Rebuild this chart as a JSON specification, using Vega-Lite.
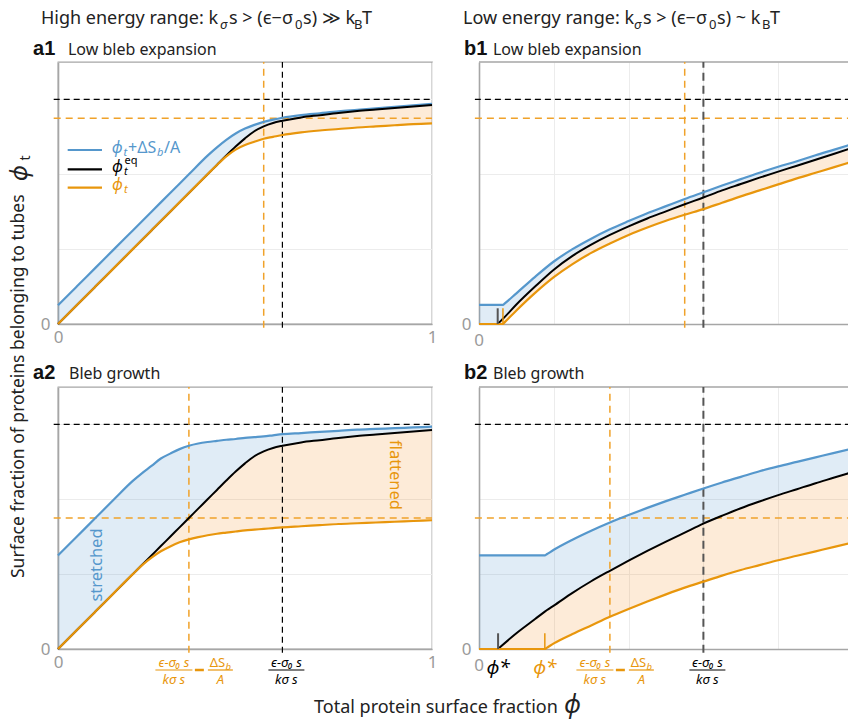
{
"$schema": "https://vega.github.io/schema/vega-lite/v6.json",
"padding": 0,
"background": "white",
"config": {
  "font": "Noto Sans",
  "view": {"stroke": "#a6a6a6", "strokeWidth": 1.3},
  "axis": {"grid": true, "gridColor": "#ececec", "gridWidth": 1, "ticks": false, "domainColor": "#a6a6a6", "domainWidth": 1.6, "labelColor": "#9a9a9a", "labelFontSize": 17, "labelFont": "Noto Sans", "labelFlush": false, "labelOverlap": false}
},
"columns": 2,
"spacing": {"row": 63, "column": 47},
"bounds": "flush",
"concat": [
{
  "width": 374, "height": 262,
  "data": {"values": [
    {"x":0,"blue":0.05,"black":0,"orange":0},
    {"x":0.05,"blue":0.1,"black":0.05,"orange":0.05},
    {"x":0.1,"blue":0.15,"black":0.1,"orange":0.1},
    {"x":0.15,"blue":0.2,"black":0.15,"orange":0.15},
    {"x":0.2,"blue":0.25,"black":0.2,"orange":0.2},
    {"x":0.25,"blue":0.3,"black":0.25,"orange":0.25},
    {"x":0.3,"blue":0.35,"black":0.3,"orange":0.3},
    {"x":0.35,"blue":0.4,"black":0.35,"orange":0.35},
    {"x":0.4,"blue":0.45,"black":0.4,"orange":0.4},
    {"x":0.425,"blue":0.472,"black":0.425,"orange":0.425},
    {"x":0.45,"blue":0.492,"black":0.45,"orange":0.448},
    {"x":0.475,"blue":0.509,"black":0.474,"orange":0.466},
    {"x":0.5,"blue":0.522,"black":0.496,"orange":0.478},
    {"x":0.525,"blue":0.532,"black":0.515,"orange":0.487},
    {"x":0.55,"blue":0.54,"black":0.528,"orange":0.495},
    {"x":0.575,"blue":0.546,"black":0.537,"orange":0.5},
    {"x":0.6,"blue":0.551,"black":0.543,"orange":0.505},
    {"x":0.65,"blue":0.558,"black":0.552,"orange":0.512},
    {"x":0.7,"blue":0.563,"black":0.558,"orange":0.517},
    {"x":0.75,"blue":0.568,"black":0.564,"orange":0.521},
    {"x":0.8,"blue":0.572,"black":0.569,"orange":0.525},
    {"x":0.85,"blue":0.576,"black":0.573,"orange":0.528},
    {"x":0.9,"blue":0.58,"black":0.577,"orange":0.531},
    {"x":0.95,"blue":0.584,"black":0.581,"orange":0.534},
    {"x":1,"blue":0.588,"black":0.585,"orange":0.536}
  ]},
  "encoding": {"x": {"field": "x", "type": "quantitative", "title": null, "scale": {"domain": [0, 1], "nice": false}, "axis": {"values": [0,0.2,0.4,0.6,0.8,1], "format": "d", "labelExpr": "datum.value==0?'0':datum.value==1?'1':''", "labelPadding": 5}}},
  "layer": [
    {"mark": {"type": "area", "color": "#5597cc", "opacity": 0.18, "interpolate": "monotone"}, "encoding": {"y": {"field": "blue", "type": "quantitative", "title": null, "scale": {"domain": [0, 0.7], "nice": false}, "axis": {"values": [0,0.2,0.4,0.6], "labelExpr": "datum.value==0?'0':''", "labelPadding": 8}}, "y2": {"field": "black"}}},
    {"mark": {"type": "area", "color": "#f39c3c", "opacity": 0.2, "interpolate": "monotone"}, "encoding": {"y": {"field": "black", "type": "quantitative", "title": null}, "y2": {"field": "orange"}}},
    {"data": {"values": [{"xa": -0.0115, "xb": 1, "y": 0.6}]}, "mark": {"type": "rule", "color": "#000000", "strokeWidth": 1.2, "strokeDash": [6, 4]}, "encoding": {"x": {"field": "xa", "type": "quantitative", "title": null}, "x2": {"field": "xb"}, "y": {"field": "y", "type": "quantitative", "title": null}}},
    {"data": {"values": [{"xa": -0.0115, "xb": 1, "y": 0.55}]}, "mark": {"type": "rule", "color": "#f0a22a", "strokeWidth": 1.5, "strokeDash": [7, 5]}, "encoding": {"x": {"field": "xa", "type": "quantitative", "title": null}, "x2": {"field": "xb"}, "y": {"field": "y", "type": "quantitative", "title": null}}},
    {"data": {"values": [{"x": 0.6, "ya": -0.01, "yb": 0.7}]}, "mark": {"type": "rule", "color": "#000000", "strokeWidth": 1.2, "strokeDash": [6, 4]}, "encoding": {"y": {"field": "ya", "type": "quantitative", "title": null}, "y2": {"field": "yb"}}},
    {"data": {"values": [{"x": 0.55, "ya": -0.01, "yb": 0.7}]}, "mark": {"type": "rule", "color": "#f0a22a", "strokeWidth": 1.5, "strokeDash": [7, 5]}, "encoding": {"y": {"field": "ya", "type": "quantitative", "title": null}, "y2": {"field": "yb"}}},
    {"mark": {"type": "line", "color": "#5597cc", "strokeWidth": 2.2, "interpolate": "monotone"}, "encoding": {"y": {"field": "blue", "type": "quantitative", "title": null}}},
    {"mark": {"type": "line", "color": "#000000", "strokeWidth": 2, "interpolate": "monotone"}, "encoding": {"y": {"field": "black", "type": "quantitative", "title": null}}},
    {"mark": {"type": "line", "color": "#e8960c", "strokeWidth": 2.2, "interpolate": "monotone"}, "encoding": {"y": {"field": "orange", "type": "quantitative", "title": null}}},
    {"data": {"values": [{"s":"blue","xa":0.0259,"xb":0.1176,"y":0.4649},{"s":"black","xa":0.0259,"xb":0.1176,"y":0.4133},{"s":"orange","xa":0.0259,"xb":0.1176,"y":0.3642}]}, "mark": {"type": "rule", "strokeWidth": 2.2}, "encoding": {"x": {"field": "xa", "type": "quantitative", "title": null}, "x2": {"field": "xb"}, "y": {"field": "y", "type": "quantitative", "title": null}, "color": {"field": "s", "type": "nominal", "scale": {"domain": ["blue","black","orange"], "range": ["#5597cc","#000000","#e8960c"]}, "legend": null}}},
    {"data": {"values": [{"s":"blue","x":0.1436,"y":0.4569,"t":"ϕ"},{"s":"black","x":0.1444,"y":0.4061,"t":"ϕ"},{"s":"orange","x":0.1444,"y":0.3567,"t":"ϕ"}]}, "mark": {"type": "text", "align": "left", "baseline": "alphabetic", "fontSize": 16, "fontStyle": "italic"}, "encoding": {"y": {"field": "y", "type": "quantitative", "title": null}, "text": {"field": "t"}, "color": {"field": "s", "type": "nominal", "legend": null}}},
    {"data": {"values": [{"s":"blue","x":0.1751,"y":0.4489,"t":"t"},{"s":"blue","x":0.2647,"y":0.4489,"t":"b"},{"s":"black","x":0.1765,"y":0.3981,"t":"t"},{"s":"orange","x":0.1765,"y":0.3487,"t":"t"}]}, "mark": {"type": "text", "align": "left", "baseline": "alphabetic", "fontSize": 11, "fontStyle": "italic"}, "encoding": {"y": {"field": "y", "type": "quantitative", "title": null}, "text": {"field": "t"}, "color": {"field": "s", "type": "nominal", "legend": null}}},
    {"data": {"values": [{"s":"blue","x":0.1872,"y":0.4569,"t":"+ΔS"},{"s":"blue","x":0.2834,"y":0.4569,"t":"/A"}]}, "mark": {"type": "text", "align": "left", "baseline": "alphabetic", "fontSize": 16}, "encoding": {"y": {"field": "y", "type": "quantitative", "title": null}, "text": {"field": "t"}, "color": {"field": "s", "type": "nominal", "legend": null}}},
    {"data": {"values": [{"s":"black","x":0.1778,"y":0.4275,"t":"eq"}]}, "mark": {"type": "text", "align": "left", "baseline": "alphabetic", "fontSize": 11}, "encoding": {"y": {"field": "y", "type": "quantitative", "title": null}, "text": {"field": "t"}, "color": {"field": "s", "type": "nominal", "legend": null}}},
    {"data": {"values": [{"x":-0.0455,"y":0.8002,"t":"High energy range: k"},{"x":0.4572,"y":0.8002,"t":"s > (ϵ−σ"},{"x":0.6551,"y":0.8002,"t":"s) ≫ k"},{"x":0.8128,"y":0.8002,"t":"T"}]}, "mark": {"type": "text", "align": "left", "baseline": "alphabetic", "fontSize": 18, "color": "#222222"}, "encoding": {"y": {"field": "y", "type": "quantitative", "title": null}, "text": {"field": "t"}}},
    {"data": {"values": [{"x":0.4332,"y":0.7895,"t":"σ"}]}, "mark": {"type": "text", "align": "left", "baseline": "alphabetic", "fontSize": 13, "fontStyle": "italic", "color": "#222222"}, "encoding": {"y": {"field": "y", "type": "quantitative", "title": null}, "text": {"field": "t"}}},
    {"data": {"values": [{"x":0.6337,"y":0.7895,"t":"0"},{"x":0.7914,"y":0.7895,"t":"B"}]}, "mark": {"type": "text", "align": "left", "baseline": "alphabetic", "fontSize": 13, "color": "#222222"}, "encoding": {"y": {"field": "y", "type": "quantitative", "title": null}, "text": {"field": "t"}}},
    {"data": {"values": [{"x":-0.0668,"y":0.7187,"t":"a1"}]}, "mark": {"type": "text", "align": "left", "baseline": "alphabetic", "fontSize": 20, "fontWeight": "bold", "font": "Liberation Sans", "color": "#111111"}, "encoding": {"y": {"field": "y", "type": "quantitative", "title": null}, "text": {"field": "t"}}},
    {"data": {"values": [{"x":0.0267,"y":0.7187,"t":"Low bleb expansion"}]}, "mark": {"type": "text", "align": "left", "baseline": "alphabetic", "fontSize": 16, "color": "#222222"}, "encoding": {"y": {"field": "y", "type": "quantitative", "title": null}, "text": {"field": "t"}}},
    {"data": {"values": [{"x":-0.1056,"y":-0.6786,"t":"Surface fraction of proteins belonging to tubes"}]}, "mark": {"type": "text", "align": "left", "baseline": "middle", "angle": 270, "fontSize": 17.5, "color": "#222222"}, "encoding": {"y": {"field": "y", "type": "quantitative", "title": null}, "text": {"field": "t"}}},
    {"data": {"values": [{"x":-0.1016,"y":0.4034,"t":"ϕ"}]}, "mark": {"type": "text", "align": "center", "baseline": "middle", "angle": 270, "fontSize": 24, "fontStyle": "italic", "color": "#222222"}, "encoding": {"y": {"field": "y", "type": "quantitative", "title": null}, "text": {"field": "t"}}},
    {"data": {"values": [{"x":-0.0856,"y":0.4435,"t":"t"}]}, "mark": {"type": "text", "align": "center", "baseline": "middle", "angle": 270, "fontSize": 14, "color": "#222222"}, "encoding": {"y": {"field": "y", "type": "quantitative", "title": null}, "text": {"field": "t"}}},
    {"data": {"values": [{"x":-0.1524,"y":0.863,"t":" "}]}, "mark": {"type": "text", "align": "left", "baseline": "top", "fontSize": 1, "opacity": 0}, "encoding": {"y": {"field": "y", "type": "quantitative", "title": null}, "text": {"field": "t"}}}
  ]
},
{
  "width": 370, "height": 262,
  "view": {"stroke": null},
  "data": {"values": [
    {"x":0,"blue":0.051,"black":0,"orange":0},
    {"x":0.05,"blue":0.051,"black":0,"orange":0},
    {"x":0.055,"blue":0.051,"black":0.005,"orange":0},
    {"x":0.064,"blue":0.051,"black":0.014,"orange":0},
    {"x":0.069,"blue":0.055,"black":0.019,"orange":0.005},
    {"x":0.1,"blue":0.082,"black":0.052,"orange":0.036},
    {"x":0.15,"blue":0.126,"black":0.1,"orange":0.083},
    {"x":0.2,"blue":0.167,"black":0.145,"orange":0.125},
    {"x":0.25,"blue":0.2,"black":0.182,"orange":0.16},
    {"x":0.3,"blue":0.228,"black":0.212,"orange":0.19},
    {"x":0.35,"blue":0.253,"black":0.238,"orange":0.215},
    {"x":0.4,"blue":0.275,"black":0.261,"orange":0.238},
    {"x":0.45,"blue":0.296,"black":0.282,"orange":0.258},
    {"x":0.5,"blue":0.315,"black":0.301,"orange":0.276},
    {"x":0.55,"blue":0.334,"black":0.32,"orange":0.292},
    {"x":0.6,"blue":0.352,"black":0.338,"orange":0.307},
    {"x":0.65,"blue":0.37,"black":0.357,"orange":0.324},
    {"x":0.7,"blue":0.387,"black":0.374,"orange":0.341},
    {"x":0.75,"blue":0.404,"black":0.391,"orange":0.357},
    {"x":0.8,"blue":0.42,"black":0.407,"orange":0.373},
    {"x":0.85,"blue":0.435,"black":0.423,"orange":0.389},
    {"x":0.9,"blue":0.451,"black":0.439,"orange":0.404},
    {"x":0.95,"blue":0.466,"black":0.455,"orange":0.419},
    {"x":0.9893,"blue":0.478,"black":0.468,"orange":0.431}
  ]},
  "encoding": {"x": {"field": "x", "type": "quantitative", "title": null, "scale": {"domain": [0, 0.9893], "nice": false}, "axis": {"values": [0,0.2,0.4,0.6,0.8], "labels": false}}},
  "layer": [
    {"mark": {"type": "area", "color": "#5597cc", "opacity": 0.18, "interpolate": "monotone"}, "encoding": {"y": {"field": "blue", "type": "quantitative", "title": null, "scale": {"domain": [0, 0.7], "nice": false}, "axis": {"values": [0,0.2,0.4,0.6], "labelExpr": "datum.value==0?'0':''", "labelPadding": 8}}, "y2": {"field": "black"}}},
    {"mark": {"type": "area", "color": "#f39c3c", "opacity": 0.2, "interpolate": "monotone"}, "encoding": {"y": {"field": "black", "type": "quantitative", "title": null}, "y2": {"field": "orange"}}},
    {"data": {"values": [{"xa": 0, "xb": 0.9893, "y": 0.7}]}, "mark": {"type": "rule", "color": "#a6a6a6", "strokeWidth": 1.3}, "encoding": {"x": {"field": "xa", "type": "quantitative", "title": null}, "x2": {"field": "xb"}, "y": {"field": "y", "type": "quantitative", "title": null}}},
    {"data": {"values": [{"xa": -0.011, "xb": 0.9893, "y": 0.6}]}, "mark": {"type": "rule", "color": "#000000", "strokeWidth": 1.2, "strokeDash": [6, 4]}, "encoding": {"x": {"field": "xa", "type": "quantitative", "title": null}, "x2": {"field": "xb"}, "y": {"field": "y", "type": "quantitative", "title": null}}},
    {"data": {"values": [{"xa": -0.011, "xb": 0.9893, "y": 0.55}]}, "mark": {"type": "rule", "color": "#f0a22a", "strokeWidth": 1.5, "strokeDash": [7, 5]}, "encoding": {"x": {"field": "xa", "type": "quantitative", "title": null}, "x2": {"field": "xb"}, "y": {"field": "y", "type": "quantitative", "title": null}}},
    {"data": {"values": [{"x": 0.6, "ya": -0.01, "yb": 0.7}]}, "mark": {"type": "rule", "color": "#555555", "strokeWidth": 2, "strokeDash": [8, 5]}, "encoding": {"y": {"field": "ya", "type": "quantitative", "title": null}, "y2": {"field": "yb"}}},
    {"data": {"values": [{"x": 0.55, "ya": -0.01, "yb": 0.7}]}, "mark": {"type": "rule", "color": "#f0a22a", "strokeWidth": 1.5, "strokeDash": [7, 5]}, "encoding": {"y": {"field": "ya", "type": "quantitative", "title": null}, "y2": {"field": "yb"}}},
    {"mark": {"type": "line", "color": "#5597cc", "strokeWidth": 2.2, "interpolate": "monotone"}, "encoding": {"y": {"field": "blue", "type": "quantitative", "title": null}}},
    {"mark": {"type": "line", "color": "#000000", "strokeWidth": 2, "interpolate": "monotone"}, "encoding": {"y": {"field": "black", "type": "quantitative", "title": null}}},
    {"mark": {"type": "line", "color": "#e8960c", "strokeWidth": 2.2, "interpolate": "monotone"}, "encoding": {"y": {"field": "orange", "type": "quantitative", "title": null}}},
    {"data": {"values": [{"x": 0.05, "ya": 0, "yb": 0.042}]}, "mark": {"type": "rule", "color": "#555555", "strokeWidth": 2}, "encoding": {"y": {"field": "ya", "type": "quantitative", "title": null}, "y2": {"field": "yb"}}},
    {"data": {"values": [{"x": 0.064, "ya": 0, "yb": 0.042}]}, "mark": {"type": "rule", "color": "#e8960c", "strokeWidth": 1.5}, "encoding": {"y": {"field": "ya", "type": "quantitative", "title": null}, "y2": {"field": "yb"}}},
    {"data": {"values": [{"x":0,"y":-0.045,"t":"0"}]}, "mark": {"type": "text", "align": "center", "baseline": "middle", "fontSize": 17, "color": "#9a9a9a"}, "encoding": {"y": {"field": "y", "type": "quantitative", "title": null}, "text": {"field": "t"}}},
    {"data": {"values": [{"x":-0.0428,"y":0.8002,"t":"Low energy range: k"},{"x":0.4385,"y":0.8002,"t":"s > (ϵ−σ"},{"x":0.6364,"y":0.8002,"t":"s) ~ k"},{"x":0.7781,"y":0.8002,"t":"T"}]}, "mark": {"type": "text", "align": "left", "baseline": "alphabetic", "fontSize": 18, "color": "#222222"}, "encoding": {"y": {"field": "y", "type": "quantitative", "title": null}, "text": {"field": "t"}}},
    {"data": {"values": [{"x":0.4144,"y":0.7895,"t":"σ"}]}, "mark": {"type": "text", "align": "left", "baseline": "alphabetic", "fontSize": 13, "fontStyle": "italic", "color": "#222222"}, "encoding": {"y": {"field": "y", "type": "quantitative", "title": null}, "text": {"field": "t"}}},
    {"data": {"values": [{"x":0.615,"y":0.7895,"t":"0"},{"x":0.7567,"y":0.7895,"t":"B"}]}, "mark": {"type": "text", "align": "left", "baseline": "alphabetic", "fontSize": 13, "color": "#222222"}, "encoding": {"y": {"field": "y", "type": "quantitative", "title": null}, "text": {"field": "t"}}},
    {"data": {"values": [{"x":-0.0401,"y":0.7187,"t":"b1"}]}, "mark": {"type": "text", "align": "left", "baseline": "alphabetic", "fontSize": 20, "fontWeight": "bold", "font": "Liberation Sans", "color": "#111111"}, "encoding": {"y": {"field": "y", "type": "quantitative", "title": null}, "text": {"field": "t"}}},
    {"data": {"values": [{"x":0.0374,"y":0.7187,"t":"Low bleb expansion"}]}, "mark": {"type": "text", "align": "left", "baseline": "alphabetic", "fontSize": 16, "color": "#222222"}, "encoding": {"y": {"field": "y", "type": "quantitative", "title": null}, "text": {"field": "t"}}}
  ]
},
{
  "width": 374, "height": 262,
  "data": {"values": [
    {"x":0,"blue":0.25,"black":0,"orange":0},
    {"x":0.05,"blue":0.3,"black":0.05,"orange":0.05},
    {"x":0.1,"blue":0.35,"black":0.1,"orange":0.1},
    {"x":0.15,"blue":0.4,"black":0.15,"orange":0.15},
    {"x":0.2,"blue":0.449,"black":0.2,"orange":0.2},
    {"x":0.225,"blue":0.47,"black":0.225,"orange":0.224},
    {"x":0.25,"blue":0.489,"black":0.25,"orange":0.244},
    {"x":0.275,"blue":0.509,"black":0.275,"orange":0.261},
    {"x":0.3,"blue":0.522,"black":0.3,"orange":0.274},
    {"x":0.325,"blue":0.534,"black":0.325,"orange":0.285},
    {"x":0.35,"blue":0.543,"black":0.35,"orange":0.293},
    {"x":0.375,"blue":0.549,"black":0.375,"orange":0.299},
    {"x":0.4,"blue":0.553,"black":0.4,"orange":0.304},
    {"x":0.425,"blue":0.556,"black":0.425,"orange":0.308},
    {"x":0.45,"blue":0.559,"black":0.45,"orange":0.311},
    {"x":0.475,"blue":0.561,"black":0.474,"orange":0.314},
    {"x":0.5,"blue":0.564,"black":0.496,"orange":0.317},
    {"x":0.525,"blue":0.566,"black":0.515,"orange":0.319},
    {"x":0.55,"blue":0.568,"black":0.528,"orange":0.321},
    {"x":0.575,"blue":0.571,"black":0.537,"orange":0.323},
    {"x":0.6,"blue":0.574,"black":0.543,"orange":0.325},
    {"x":0.65,"blue":0.577,"black":0.552,"orange":0.328},
    {"x":0.7,"blue":0.58,"black":0.558,"orange":0.331},
    {"x":0.75,"blue":0.583,"black":0.564,"orange":0.334},
    {"x":0.8,"blue":0.586,"black":0.569,"orange":0.336},
    {"x":0.85,"blue":0.588,"black":0.573,"orange":0.338},
    {"x":0.9,"blue":0.59,"black":0.577,"orange":0.34},
    {"x":0.95,"blue":0.592,"black":0.581,"orange":0.342},
    {"x":1,"blue":0.594,"black":0.585,"orange":0.344}
  ]},
  "encoding": {"x": {"field": "x", "type": "quantitative", "title": null, "scale": {"domain": [0, 1], "nice": false}, "axis": {"values": [0,0.2,0.4,0.6,0.8,1], "format": "d", "labelExpr": "datum.value==0?'0':datum.value==1?'1':''", "labelPadding": 5}}},
  "layer": [
    {"mark": {"type": "area", "color": "#5597cc", "opacity": 0.18, "interpolate": "monotone"}, "encoding": {"y": {"field": "blue", "type": "quantitative", "title": null, "scale": {"domain": [0, 0.7], "nice": false}, "axis": {"values": [0,0.2,0.4,0.6], "labelExpr": "datum.value==0?'0':''", "labelPadding": 8}}, "y2": {"field": "black"}}},
    {"mark": {"type": "area", "color": "#f39c3c", "opacity": 0.2, "interpolate": "monotone"}, "encoding": {"y": {"field": "black", "type": "quantitative", "title": null}, "y2": {"field": "orange"}}},
    {"data": {"values": [{"xa": -0.0115, "xb": 1, "y": 0.6}]}, "mark": {"type": "rule", "color": "#000000", "strokeWidth": 1.2, "strokeDash": [6, 4]}, "encoding": {"x": {"field": "xa", "type": "quantitative", "title": null}, "x2": {"field": "xb"}, "y": {"field": "y", "type": "quantitative", "title": null}}},
    {"data": {"values": [{"xa": -0.0115, "xb": 1, "y": 0.35}]}, "mark": {"type": "rule", "color": "#f0a22a", "strokeWidth": 1.5, "strokeDash": [7, 5]}, "encoding": {"x": {"field": "xa", "type": "quantitative", "title": null}, "x2": {"field": "xb"}, "y": {"field": "y", "type": "quantitative", "title": null}}},
    {"data": {"values": [{"x": 0.6, "ya": -0.01, "yb": 0.7}]}, "mark": {"type": "rule", "color": "#000000", "strokeWidth": 1.2, "strokeDash": [6, 4]}, "encoding": {"y": {"field": "ya", "type": "quantitative", "title": null}, "y2": {"field": "yb"}}},
    {"data": {"values": [{"x": 0.35, "ya": -0.01, "yb": 0.7}]}, "mark": {"type": "rule", "color": "#f0a22a", "strokeWidth": 1.5, "strokeDash": [7, 5]}, "encoding": {"y": {"field": "ya", "type": "quantitative", "title": null}, "y2": {"field": "yb"}}},
    {"mark": {"type": "line", "color": "#5597cc", "strokeWidth": 2.2, "interpolate": "monotone"}, "encoding": {"y": {"field": "blue", "type": "quantitative", "title": null}}},
    {"mark": {"type": "line", "color": "#000000", "strokeWidth": 2, "interpolate": "monotone"}, "encoding": {"y": {"field": "black", "type": "quantitative", "title": null}}},
    {"mark": {"type": "line", "color": "#e8960c", "strokeWidth": 2.2, "interpolate": "monotone"}, "encoding": {"y": {"field": "orange", "type": "quantitative", "title": null}}},
    {"data": {"values": [{"x":0.1043,"y":0.2244,"t":"stretched"}]}, "mark": {"type": "text", "align": "center", "baseline": "middle", "angle": 270, "fontSize": 16.5, "color": "#5597cc"}, "encoding": {"y": {"field": "y", "type": "quantitative", "title": null}, "text": {"field": "t"}}},
    {"data": {"values": [{"x":0.9011,"y":0.4649,"t":"flattened"}]}, "mark": {"type": "text", "align": "center", "baseline": "middle", "angle": 90, "fontSize": 16.5, "color": "#e8960c"}, "encoding": {"y": {"field": "y", "type": "quantitative", "title": null}, "text": {"field": "t"}}},
    {"data": {"values": [{"s":"orange","xa":0.2604,"xb":0.3594,"y":-0.0561},{"s":"orange","xa":0.4008,"xb":0.4676,"y":-0.0561},{"s":"black","xa":0.5626,"xb":0.6588,"y":-0.0561}]}, "mark": {"type": "rule", "strokeWidth": 1.2}, "encoding": {"x": {"field": "xa", "type": "quantitative", "title": null}, "x2": {"field": "xb"}, "y": {"field": "y", "type": "quantitative", "title": null}, "color": {"field": "s", "type": "nominal", "scale": {"domain": ["blue","black","orange"], "range": ["#5597cc","#000000","#e8960c"]}, "legend": null}}},
    {"data": {"values": [{"xa":0.366,"xb":0.39,"y":-0.0561}]}, "mark": {"type": "rule", "strokeWidth": 2.5, "color": "#e8960c"}, "encoding": {"x": {"field": "xa", "type": "quantitative", "title": null}, "x2": {"field": "xb"}, "y": {"field": "y", "type": "quantitative", "title": null}}},
    {"data": {"values": [{"s":"orange","x":0.3099,"y":-0.0494,"t":"ϵ−σ₀ s"},{"s":"orange","x":0.3099,"y":-0.0935,"t":"kσ s"},{"s":"orange","x":0.4342,"y":-0.0935,"t":"A"},{"s":"black","x":0.6107,"y":-0.0494,"t":"ϵ−σ₀ s"},{"s":"black","x":0.6107,"y":-0.0935,"t":"kσ s"}]}, "mark": {"type": "text", "align": "center", "baseline": "alphabetic", "fontSize": 13, "fontStyle": "italic"}, "encoding": {"y": {"field": "y", "type": "quantitative", "title": null}, "text": {"field": "t"}, "color": {"field": "s", "type": "nominal", "legend": null}}},
    {"data": {"values": [{"x":0.4469,"y":-0.0494,"t":"ΔS"}]}, "mark": {"type": "text", "align": "right", "baseline": "alphabetic", "fontSize": 13, "color": "#e8960c"}, "encoding": {"y": {"field": "y", "type": "quantitative", "title": null}, "text": {"field": "t"}}},
    {"data": {"values": [{"x":0.4476,"y":-0.0574,"t":"b"}]}, "mark": {"type": "text", "align": "left", "baseline": "alphabetic", "fontSize": 9.5, "fontStyle": "italic", "color": "#e8960c"}, "encoding": {"y": {"field": "y", "type": "quantitative", "title": null}, "text": {"field": "t"}}},
    {"data": {"values": [{"x":-0.0668,"y":0.7214,"t":"a2"}]}, "mark": {"type": "text", "align": "left", "baseline": "alphabetic", "fontSize": 20, "fontWeight": "bold", "font": "Liberation Sans", "color": "#111111"}, "encoding": {"y": {"field": "y", "type": "quantitative", "title": null}, "text": {"field": "t"}}},
    {"data": {"values": [{"x":0.0294,"y":0.7214,"t":"Bleb growth"}]}, "mark": {"type": "text", "align": "left", "baseline": "alphabetic", "fontSize": 16, "color": "#222222"}, "encoding": {"y": {"field": "y", "type": "quantitative", "title": null}, "text": {"field": "t"}}},
    {"data": {"values": [{"x":0.6845,"y":-0.1702,"t":"Total protein surface fraction"}]}, "mark": {"type": "text", "align": "left", "baseline": "alphabetic", "fontSize": 18, "color": "#222222"}, "encoding": {"y": {"field": "y", "type": "quantitative", "title": null}, "text": {"field": "t"}}},
    {"data": {"values": [{"x":1.353,"y":-0.171,"t":"ϕ"}]}, "mark": {"type": "text", "align": "left", "baseline": "alphabetic", "fontSize": 25, "fontStyle": "italic", "color": "#222222"}, "encoding": {"y": {"field": "y", "type": "quantitative", "title": null}, "text": {"field": "t"}}}
  ]
},
{
  "width": 370, "height": 262,
  "view": {"stroke": null},
  "data": {"values": [
    {"x":0,"blue":0.25,"black":0,"orange":0},
    {"x":0.051,"blue":0.25,"black":0,"orange":0},
    {"x":0.056,"blue":0.25,"black":0.0045,"orange":0},
    {"x":0.1,"blue":0.25,"black":0.042,"orange":0},
    {"x":0.15,"blue":0.25,"black":0.08,"orange":0},
    {"x":0.176,"blue":0.25,"black":0.1,"orange":0},
    {"x":0.181,"blue":0.253,"black":0.1035,"orange":0.003},
    {"x":0.2,"blue":0.265,"black":0.116,"orange":0.015},
    {"x":0.25,"blue":0.292,"black":0.15,"orange":0.04},
    {"x":0.3,"blue":0.316,"black":0.181,"orange":0.063},
    {"x":0.35,"blue":0.338,"black":0.209,"orange":0.086},
    {"x":0.4,"blue":0.358,"black":0.236,"orange":0.107},
    {"x":0.45,"blue":0.377,"black":0.262,"orange":0.127},
    {"x":0.5,"blue":0.395,"black":0.287,"orange":0.146},
    {"x":0.55,"blue":0.412,"black":0.311,"orange":0.164},
    {"x":0.6,"blue":0.429,"black":0.335,"orange":0.18},
    {"x":0.65,"blue":0.445,"black":0.356,"orange":0.196},
    {"x":0.7,"blue":0.46,"black":0.376,"orange":0.211},
    {"x":0.75,"blue":0.475,"black":0.394,"orange":0.224},
    {"x":0.8,"blue":0.488,"black":0.411,"orange":0.237},
    {"x":0.85,"blue":0.5,"black":0.427,"orange":0.249},
    {"x":0.9,"blue":0.512,"black":0.443,"orange":0.261},
    {"x":0.95,"blue":0.524,"black":0.458,"orange":0.273},
    {"x":0.9893,"blue":0.533,"black":0.47,"orange":0.282}
  ]},
  "encoding": {"x": {"field": "x", "type": "quantitative", "title": null, "scale": {"domain": [0, 0.9893], "nice": false}, "axis": {"values": [0,0.2,0.4,0.6,0.8], "labels": false}}},
  "layer": [
    {"mark": {"type": "area", "color": "#5597cc", "opacity": 0.18, "interpolate": "monotone"}, "encoding": {"y": {"field": "blue", "type": "quantitative", "title": null, "scale": {"domain": [0, 0.7], "nice": false}, "axis": {"values": [0,0.2,0.4,0.6], "labelExpr": "datum.value==0?'0':''", "labelPadding": 8}}, "y2": {"field": "black"}}},
    {"mark": {"type": "area", "color": "#f39c3c", "opacity": 0.2, "interpolate": "monotone"}, "encoding": {"y": {"field": "black", "type": "quantitative", "title": null}, "y2": {"field": "orange"}}},
    {"data": {"values": [{"xa": 0, "xb": 0.9893, "y": 0.7}]}, "mark": {"type": "rule", "color": "#a6a6a6", "strokeWidth": 1.3}, "encoding": {"x": {"field": "xa", "type": "quantitative", "title": null}, "x2": {"field": "xb"}, "y": {"field": "y", "type": "quantitative", "title": null}}},
    {"data": {"values": [{"xa": -0.011, "xb": 0.9893, "y": 0.6}]}, "mark": {"type": "rule", "color": "#000000", "strokeWidth": 1.2, "strokeDash": [6, 4]}, "encoding": {"x": {"field": "xa", "type": "quantitative", "title": null}, "x2": {"field": "xb"}, "y": {"field": "y", "type": "quantitative", "title": null}}},
    {"data": {"values": [{"xa": -0.011, "xb": 0.9893, "y": 0.35}]}, "mark": {"type": "rule", "color": "#f0a22a", "strokeWidth": 1.5, "strokeDash": [7, 5]}, "encoding": {"x": {"field": "xa", "type": "quantitative", "title": null}, "x2": {"field": "xb"}, "y": {"field": "y", "type": "quantitative", "title": null}}},
    {"data": {"values": [{"x": 0.6, "ya": -0.01, "yb": 0.7}]}, "mark": {"type": "rule", "color": "#555555", "strokeWidth": 2, "strokeDash": [8, 5]}, "encoding": {"y": {"field": "ya", "type": "quantitative", "title": null}, "y2": {"field": "yb"}}},
    {"data": {"values": [{"x": 0.35, "ya": -0.01, "yb": 0.7}]}, "mark": {"type": "rule", "color": "#f0a22a", "strokeWidth": 1.5, "strokeDash": [7, 5]}, "encoding": {"y": {"field": "ya", "type": "quantitative", "title": null}, "y2": {"field": "yb"}}},
    {"mark": {"type": "line", "color": "#5597cc", "strokeWidth": 2.2, "interpolate": "monotone"}, "encoding": {"y": {"field": "blue", "type": "quantitative", "title": null}}},
    {"mark": {"type": "line", "color": "#000000", "strokeWidth": 2, "interpolate": "monotone"}, "encoding": {"y": {"field": "black", "type": "quantitative", "title": null}}},
    {"mark": {"type": "line", "color": "#e8960c", "strokeWidth": 2.2, "interpolate": "monotone"}, "encoding": {"y": {"field": "orange", "type": "quantitative", "title": null}}},
    {"data": {"values": [{"x": 0.051, "ya": 0, "yb": 0.042}]}, "mark": {"type": "rule", "color": "#555555", "strokeWidth": 2}, "encoding": {"y": {"field": "ya", "type": "quantitative", "title": null}, "y2": {"field": "yb"}}},
    {"data": {"values": [{"x": 0.176, "ya": 0, "yb": 0.042}]}, "mark": {"type": "rule", "color": "#e8960c", "strokeWidth": 1.5}, "encoding": {"y": {"field": "ya", "type": "quantitative", "title": null}, "y2": {"field": "yb"}}},
    {"data": {"values": [{"x":0,"y":-0.045,"t":"0"}]}, "mark": {"type": "text", "align": "center", "baseline": "middle", "fontSize": 17, "color": "#9a9a9a"}, "encoding": {"y": {"field": "y", "type": "quantitative", "title": null}, "text": {"field": "t"}}},
    {"data": {"values": [{"s":"orange","xa":0.2604,"xb":0.3594,"y":-0.0561},{"s":"orange","xa":0.4008,"xb":0.4676,"y":-0.0561},{"s":"black","xa":0.5626,"xb":0.6588,"y":-0.0561}]}, "mark": {"type": "rule", "strokeWidth": 1.2}, "encoding": {"x": {"field": "xa", "type": "quantitative", "title": null}, "x2": {"field": "xb"}, "y": {"field": "y", "type": "quantitative", "title": null}, "color": {"field": "s", "type": "nominal", "scale": {"domain": ["blue","black","orange"], "range": ["#5597cc","#000000","#e8960c"]}, "legend": null}}},
    {"data": {"values": [{"xa":0.366,"xb":0.39,"y":-0.0561}]}, "mark": {"type": "rule", "strokeWidth": 2.5, "color": "#e8960c"}, "encoding": {"x": {"field": "xa", "type": "quantitative", "title": null}, "x2": {"field": "xb"}, "y": {"field": "y", "type": "quantitative", "title": null}}},
    {"data": {"values": [{"s":"orange","x":0.3099,"y":-0.0494,"t":"ϵ−σ₀ s"},{"s":"orange","x":0.3099,"y":-0.0935,"t":"kσ s"},{"s":"orange","x":0.4342,"y":-0.0935,"t":"A"},{"s":"black","x":0.6107,"y":-0.0494,"t":"ϵ−σ₀ s"},{"s":"black","x":0.6107,"y":-0.0935,"t":"kσ s"}]}, "mark": {"type": "text", "align": "center", "baseline": "alphabetic", "fontSize": 13, "fontStyle": "italic"}, "encoding": {"y": {"field": "y", "type": "quantitative", "title": null}, "text": {"field": "t"}, "color": {"field": "s", "type": "nominal", "legend": null}}},
    {"data": {"values": [{"x":0.4469,"y":-0.0494,"t":"ΔS"}]}, "mark": {"type": "text", "align": "right", "baseline": "alphabetic", "fontSize": 13, "color": "#e8960c"}, "encoding": {"y": {"field": "y", "type": "quantitative", "title": null}, "text": {"field": "t"}}},
    {"data": {"values": [{"x":0.4476,"y":-0.0574,"t":"b"}]}, "mark": {"type": "text", "align": "left", "baseline": "alphabetic", "fontSize": 9.5, "fontStyle": "italic", "color": "#e8960c"}, "encoding": {"y": {"field": "y", "type": "quantitative", "title": null}, "text": {"field": "t"}}},
    {"data": {"values": [{"s":"black","x":0.051,"y":-0.0668,"t":"ϕ*"},{"s":"orange","x":0.176,"y":-0.0668,"t":"ϕ*"}]}, "mark": {"type": "text", "align": "center", "baseline": "alphabetic", "fontSize": 19, "fontStyle": "italic"}, "encoding": {"y": {"field": "y", "type": "quantitative", "title": null}, "text": {"field": "t"}, "color": {"field": "s", "type": "nominal", "legend": null}}},
    {"data": {"values": [{"x":-0.0401,"y":0.7214,"t":"b2"}]}, "mark": {"type": "text", "align": "left", "baseline": "alphabetic", "fontSize": 20, "fontWeight": "bold", "font": "Liberation Sans", "color": "#111111"}, "encoding": {"y": {"field": "y", "type": "quantitative", "title": null}, "text": {"field": "t"}}},
    {"data": {"values": [{"x":0.0374,"y":0.7214,"t":"Bleb growth"}]}, "mark": {"type": "text", "align": "left", "baseline": "alphabetic", "fontSize": 16, "color": "#222222"}, "encoding": {"y": {"field": "y", "type": "quantitative", "title": null}, "text": {"field": "t"}}}
  ]
}
]
}
